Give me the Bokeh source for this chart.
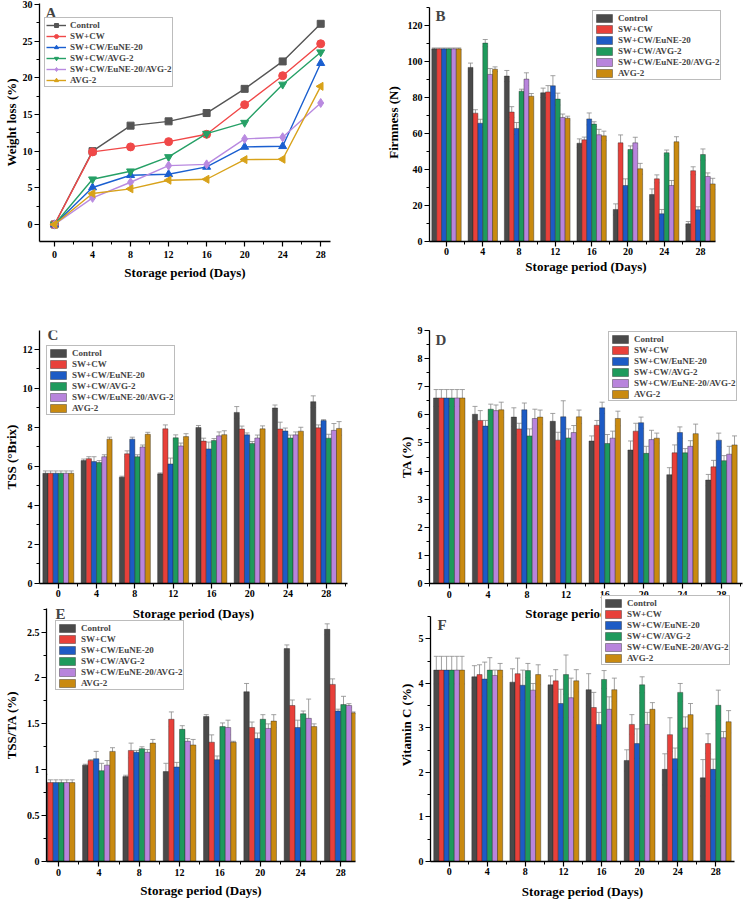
import numpy as np
from bokeh.plotting import figure
from bokeh.models import (ColumnDataSource, Whisker, TeeHead, Legend, LegendItem, Label,
                          SingleIntervalTicker, Range1d)
from bokeh.transform import dodge
from bokeh.layouts import row, column
from bokeh.embed import file_html
from bokeh.resources import INLINE

# ---------------- data ----------------
days = [0, 4, 8, 12, 16, 20, 24, 28]
treatments = ["Control", "SW+CW", "SW+CW/EuNE-20", "SW+CW/AVG-2",
              "SW+CW/EuNE-20/AVG-2", "AVG-2"]
keys = ["ctrl", "swcw", "eune", "avg", "euneavg", "avg2"]

# A: weight loss (%)
wl_ctrl = [0, 10.0, 13.48, 14.07, 15.2, 18.5, 22.24, 27.37]
wl_swcw = [0, 9.9, 10.58, 11.3, 12.3, 16.34, 20.29, 24.65]
wl_eune = [0, 5.04, 6.72, 6.85, 7.85, 10.58, 10.67, 22.0]
wl_avg = [0, 6.17, 7.26, 9.21, 12.39, 13.89, 19.1, 23.5]
wl_euneavg = [0, 3.63, 5.76, 8.03, 8.2, 11.67, 11.9, 16.57]
wl_avg2 = [0, 4.22, 4.86, 6.04, 6.17, 8.85, 8.9, 18.84]

# B: firmness (N)
fi_ctrl = [107, 96.7, 91.9, 82.6, 54.6, 17.8, 26.1, 9.8]
fi_swcw = [107, 71.3, 71.9, 83.1, 56.5, 54.8, 34.8, 39.3]
fi_eune = [107, 65.7, 62.8, 86.5, 68.1, 31.1, 15.4, 17.6]
fi_avg = [107, 110.2, 83.5, 79.1, 65.2, 51.1, 49.3, 48.3]
fi_euneavg = [107, 92.8, 90.2, 68.9, 59.3, 54.8, 31.1, 36.1]
fi_avg2 = [107, 95.7, 80.7, 68.5, 58.7, 40.4, 55.4, 32.0]
fi_err_ctrl = [0.5, 2.4, 3.1, 2.6, 2.4, 3.1, 3.1, 1.3]
fi_err_swcw = [0.5, 1.9, 3.0, 3.5, 1.5, 4.4, 2.2, 2.2]
fi_err_eune = [0.5, 2.2, 3.3, 5.6, 3.3, 3.7, 2.4, 1.7]
fi_err_avg = [0.5, 2.0, 1.1, 3.3, 1.3, 2.0, 1.5, 3.1]
fi_err_euneavg = [0.5, 3.3, 3.5, 1.9, 3.0, 3.1, 2.8, 2.0]
fi_err_avg2 = [0.5, 1.3, 1.5, 1.1, 2.6, 3.0, 2.8, 3.1]

# C: TSS (°Brix)
ts_ctrl = [5.65, 6.3, 5.45, 5.62, 8.0, 8.77, 9.0, 9.32]
ts_swcw = [5.65, 6.4, 6.65, 7.93, 7.3, 7.92, 7.92, 7.98]
ts_eune = [5.65, 6.25, 7.4, 6.13, 6.9, 7.62, 7.82, 8.35]
ts_avg = [5.65, 6.2, 6.5, 7.47, 7.33, 7.18, 7.46, 7.45]
ts_euneavg = [5.65, 6.5, 7.0, 7.05, 7.57, 7.46, 7.62, 7.85]
ts_avg2 = [5.65, 7.4, 7.65, 7.53, 7.63, 7.93, 7.81, 7.95]
ts_err_ctrl = [0.12, 0.08, 0.05, 0.05, 0.1, 0.3, 0.15, 0.3]
ts_err_swcw = [0.12, 0.1, 0.15, 0.2, 0.15, 0.15, 0.35, 0.15]
ts_err_eune = [0.12, 0.25, 0.1, 0.3, 0.35, 0.1, 0.15, 0.05]
ts_err_avg = [0.12, 0.1, 0.1, 0.15, 0.1, 0.1, 0.15, 0.2]
ts_err_euneavg = [0.12, 0.1, 0.1, 0.15, 0.2, 0.15, 0.15, 0.35]
ts_err_avg2 = [0.12, 0.1, 0.1, 0.15, 0.2, 0.15, 0.2, 0.35]

# D: TA (%)
ta_ctrl = [6.6, 6.02, 5.92, 5.77, 5.07, 4.75, 3.87, 3.68]
ta_swcw = [6.6, 5.8, 5.5, 5.1, 5.63, 5.42, 4.65, 4.15]
ta_eune = [6.6, 5.6, 6.18, 5.93, 6.25, 5.72, 5.37, 5.1]
ta_avg = [6.6, 6.2, 5.25, 5.18, 4.98, 4.63, 4.65, 4.37]
ta_euneavg = [6.6, 6.15, 5.87, 5.37, 5.17, 5.12, 4.88, 4.6]
ta_avg2 = [6.6, 6.18, 5.92, 5.93, 5.87, 5.17, 5.33, 4.93]
ta_err_ctrl = [0.3, 0.28, 0.33, 0.28, 0.18, 0.32, 0.25, 0.2]
ta_err_swcw = [0.3, 0.35, 0.2, 0.28, 0.17, 0.28, 0.28, 0.23]
ta_err_eune = [0.3, 0.2, 0.24, 0.57, 0.2, 0.2, 0.2, 0.25]
ta_err_avg = [0.3, 0.18, 0.25, 0.32, 0.32, 0.25, 0.15, 0.18]
ta_err_euneavg = [0.3, 0.2, 0.33, 0.25, 0.25, 0.33, 0.2, 0.28]
ta_err_avg2 = [0.3, 0.27, 0.25, 0.24, 0.26, 0.18, 0.34, 0.32]

# E: TSS/TA (%)
ra_ctrl = [0.86, 1.05, 0.925, 0.98, 1.58, 1.85, 2.32, 2.53]
ra_swcw = [0.86, 1.10, 1.21, 1.55, 1.30, 1.46, 1.70, 1.93]
ra_eune = [0.86, 1.12, 1.19, 1.03, 1.11, 1.34, 1.46, 1.64]
ra_avg = [0.86, 0.99, 1.23, 1.44, 1.47, 1.55, 1.61, 1.71]
ra_euneavg = [0.86, 1.05, 1.19, 1.31, 1.46, 1.45, 1.56, 1.70]
ra_avg2 = [0.86, 1.20, 1.29, 1.27, 1.30, 1.53, 1.47, 1.62]
ra_err_ctrl = [0.09, 0.01, 0.015, 0.09, 0.02, 0.09, 0.04, 0.06]
ra_err_swcw = [0.03, 0.01, 0.08, 0.08, 0.08, 0.06, 0.06, 0.06]
ra_err_eune = [0.03, 0.08, 0.02, 0.05, 0.04, 0.06, 0.08, 0.02]
ra_err_avg = [0.03, 0.08, 0.02, 0.04, 0.04, 0.05, 0.03, 0.09]
ra_err_euneavg = [0.03, 0.05, 0.03, 0.03, 0.08, 0.05, 0.21, 0.02]
ra_err_avg2 = [0.03, 0.04, 0.04, 0.06, 0.01, 0.07, 0.03, 0.01]

# F: Vitamin C (%)
vc_ctrl = [4.3, 4.15, 4.03, 3.97, 3.86, 2.27, 2.07, 1.88]
vc_swcw = [4.3, 4.2, 4.22, 4.06, 3.46, 3.08, 2.85, 2.65]
vc_eune = [4.3, 4.1, 3.96, 3.55, 3.08, 2.65, 2.31, 2.07]
vc_avg = [4.3, 4.3, 4.29, 4.2, 4.09, 3.97, 3.8, 3.51]
vc_euneavg = [4.3, 4.18, 3.85, 3.68, 3.42, 3.08, 3.0, 2.78]
vc_avg2 = [4.3, 4.3, 4.2, 4.06, 3.86, 3.42, 3.3, 3.14]
vc_err_ctrl = [0.31, 0.25, 0.3, 0.2, 0.36, 0.24, 0.35, 0.41]
vc_err_swcw = [0.31, 0.22, 0.35, 0.25, 0.34, 0.22, 0.38, 0.22]
vc_err_eune = [0.31, 0.38, 0.34, 0.32, 0.27, 0.33, 0.24, 0.23]
vc_err_avg = [0.31, 0.28, 0.16, 0.44, 0.2, 0.18, 0.2, 0.34]
vc_err_euneavg = [0.31, 0.12, 0.15, 0.44, 0.28, 0.27, 0.25, 0.14]
vc_err_avg2 = [0.31, 0.15, 0.22, 0.25, 0.26, 0.15, 0.25, 0.25]

bar_colors = ["#4a4a4a", "#e8403a", "#1d5bc5", "#1e9a5c", "#b884dc", "#c98a10"]
line_colors = ["#555555", "#f04848", "#1a5fd0", "#26a066", "#b98ae0", "#d8a21a"]
markers = ["square", "circle", "triangle", "inverted_triangle", "diamond", "triangle"]
marker_angles = [0, 0, 0, 0, 0, np.pi / 2]
marker_sizes = [7, 8, 8, 8, 9, 8]

# ---------------- layout helpers ----------------
FONT = "Liberation Serif"
XLABEL = "Storage period (Days)"
BAR_W = 0.54
ITEM_H = 11
LEG_PAD = 1
LEG_H = 6 * ITEM_H + 2 * LEG_PAD


def frame_h(sp):
    return sp["h"] - sp["t"] - sp["b"]


def base_fig(sp, transparent=False):
    p = figure(width=sp["w"], height=sp["h"],
               x_range=Range1d(*sp["xr"]), y_range=Range1d(*sp["yr"]),
               output_backend="svg", toolbar_location=None,
               min_border_left=sp["l"], min_border_right=sp["r"],
               min_border_top=sp["t"], min_border_bottom=sp["b"])
    p.outline_line_color = None
    p.xgrid.visible = False
    p.ygrid.visible = False
    if transparent:
        p.background_fill_color = None
        p.border_fill_color = None
    for ax in (p.xaxis[0], p.yaxis[0]):
        ax.axis_line_width = 1.3
        ax.axis_line_color = "black"
        ax.major_tick_out = 5
        ax.major_tick_in = 0
        ax.minor_tick_out = 3
        ax.minor_tick_in = 0
        ax.major_tick_line_width = 1.2
        ax.minor_tick_line_width = 1
        ax.major_tick_line_color = "black"
        ax.minor_tick_line_color = "black"
        ax.major_label_text_font = FONT
        ax.major_label_text_font_style = "bold"
        ax.major_label_text_font_size = "10px"
        ax.major_label_text_color = "black"
        ax.axis_label_text_font = FONT
        ax.axis_label_text_font_style = "bold"
        ax.axis_label_text_font_size = "13px"
        ax.axis_label_text_color = "black"
    p.xaxis.ticker = SingleIntervalTicker(interval=4, num_minor_ticks=2)
    p.yaxis.ticker = SingleIntervalTicker(interval=sp["ymaj"], num_minor_ticks=2)
    p.xaxis.axis_label = XLABEL
    p.yaxis.axis_label = sp["ylabel"]
    p.xaxis.major_label_standoff = sp["xs"][0]
    p.xaxis.axis_label_standoff = sp["xs"][1]
    p.yaxis.major_label_standoff = sp["ys"][0]
    p.yaxis.axis_label_standoff = sp["ys"][1]
    if "ybounds" in sp:
        p.yaxis.bounds = sp["ybounds"]
    if "xbounds" in sp:
        p.xaxis.bounds = sp["xbounds"]
    lx, ly = sp["lab"]
    p.add_layout(Label(x=lx, y=frame_h(sp) - ly, x_units="screen", y_units="screen",
                       text=sp["name"], text_font=FONT, text_font_style="bold",
                       text_font_size="15px", text_baseline="middle", text_align="left"))
    return p


def add_legend(p, sp, items):
    gx, gy = sp["leg"]
    leg = Legend(items=items, location=(gx, frame_h(sp) - gy - LEG_H))
    leg.label_text_font = FONT
    leg.label_text_font_style = "bold"
    leg.label_text_font_size = "9px"
    leg.label_text_line_height = 1.0
    leg.label_height = ITEM_H
    leg.glyph_height = ITEM_H - 1
    leg.glyph_width = 20
    leg.label_standoff = 4
    leg.spacing = 0
    leg.padding = LEG_PAD
    leg.margin = 0
    leg.border_line_color = "#7a7a7a"
    leg.border_line_width = 1
    leg.background_fill_color = "white"
    leg.background_fill_alpha = 1
    p.add_layout(leg)


def bar_panel(sp, series, errors, transparent=False):
    p = base_fig(sp, transparent)
    data = {"day": days}
    for k, v, e in zip(keys, series, errors):
        data[k] = v
        data[k + "_up"] = [a + b for a, b in zip(v, e)]
        data[k + "_lo"] = [a - b for a, b in zip(v, e)]
    src = ColumnDataSource(data)
    items = []
    for i, (k, name) in enumerate(zip(keys, treatments)):
        off = (i - 2.5) * BAR_W
        r = p.vbar(x=dodge("day", off, range=p.x_range), top=k, width=BAR_W, source=src,
                   fill_color=bar_colors[i], line_color="#222222", line_width=0.4)
        items.append(LegendItem(label=name, renderers=[r]))
    for i, k in enumerate(keys):
        off = (i - 2.5) * BAR_W
        p.add_layout(Whisker(base=dodge("day", off, range=p.x_range), upper=k + "_up", lower=k + "_lo",
                             source=src, line_color="#8a8a8a", line_width=0.8,
                             upper_head=TeeHead(size=5, line_color="#8a8a8a", line_width=0.8),
                             lower_head=TeeHead(size=5, line_color="#8a8a8a", line_width=0.8)))
    add_legend(p, sp, items)
    return p


# panel specs in pixels; borders shared within a row; leg/lab = offsets from frame top-left
spA = dict(name="A", w=372, h=300, l=33, r=42, t=3, b=59, xr=(-1.58, 29.03), yr=(-2.32, 30.14),
           ymaj=5, ylabel="Weight loss (%)", xs=(4, 4), ys=(2, 1), leg=(5, 16), lab=(6, 9.5))
spB = dict(name="B", w=371, h=300, l=57, r=1, t=3, b=59, xr=(-1.874, 32.63), yr=(0, 132.2),
           xbounds=(-1.874, 29.66), ybounds=(0, 130), ymaj=20, ylabel="Firmness (N)",
           xs=(1, 1), ys=(2, 4), leg=(163, 9), lab=(6, 12.5))
spC = dict(name="C", w=372, h=328, l=33, r=25, t=30, b=45, xr=(-1.97, 30.23), yr=(0, 12.97),
           ymaj=2, ylabel="TSS (°Brix)", xs=(1, 6), ys=(2, 1), leg=(7, 17), lab=(8, 4.5))
spD = dict(name="D", w=371, h=328, l=57, r=1, t=30, b=45, xr=(-2.03, 30.17), yr=(0, 9.0),
           ymaj=1, ylabel="TA (%)", xs=(2, 5), ys=(2, 1), leg=(179, 3), lab=(6, 9))
spE = dict(name="E", w=372, h=313, l=41, r=17, t=0, b=39, xr=(-1.2, 29.46), yr=(0, 2.975),
           ybounds=(0, 2.757), ymaj=0.5, ylabel="TSS/TA (%)", xs=(2, 4), ys=(2, 5),
           leg=(9, 35), lab=(9, 26))
spF = dict(name="F", w=371, h=313, l=58, r=9, t=0, b=39, xr=(-1.96, 29.97), yr=(0, 6.134),
           ybounds=(0, 5.5), ymaj=1, ylabel="Vitamin C (%)", xs=(1, 6), ys=(2, 2),
           leg=(171, 10), lab=(7, 37))

# ---------------- panel A (lines) ----------------
pA = base_fig(spA)
srcA = ColumnDataSource(dict(day=days, ctrl=wl_ctrl, swcw=wl_swcw, eune=wl_eune, avg=wl_avg,
                             euneavg=wl_euneavg, avg2=wl_avg2))
itemsA = []
for i, (k, name) in enumerate(zip(keys, treatments)):
    ln = pA.line(x="day", y=k, source=srcA, line_color=line_colors[i], line_width=1.4)
    mk = pA.scatter(x="day", y=k, source=srcA, marker=markers[i], size=marker_sizes[i],
                    angle=marker_angles[i], fill_color=line_colors[i], line_color=line_colors[i])
    itemsA.append(LegendItem(label=name, renderers=[ln, mk]))
add_legend(pA, spA, itemsA)

pB = bar_panel(spB, [fi_ctrl, fi_swcw, fi_eune, fi_avg, fi_euneavg, fi_avg2],
               [fi_err_ctrl, fi_err_swcw, fi_err_eune, fi_err_avg, fi_err_euneavg, fi_err_avg2])
pC = bar_panel(spC, [ts_ctrl, ts_swcw, ts_eune, ts_avg, ts_euneavg, ts_avg2],
               [ts_err_ctrl, ts_err_swcw, ts_err_eune, ts_err_avg, ts_err_euneavg, ts_err_avg2])
pD = bar_panel(spD, [ta_ctrl, ta_swcw, ta_eune, ta_avg, ta_euneavg, ta_avg2],
               [ta_err_ctrl, ta_err_swcw, ta_err_eune, ta_err_avg, ta_err_euneavg, ta_err_avg2])
pE = bar_panel(spE, [ra_ctrl, ra_swcw, ra_eune, ra_avg, ra_euneavg, ra_avg2],
               [ra_err_ctrl, ra_err_swcw, ra_err_eune, ra_err_avg, ra_err_euneavg, ra_err_avg2],
               transparent=True)
pF = bar_panel(spF, [vc_ctrl, vc_swcw, vc_eune, vc_avg, vc_euneavg, vc_avg2],
               [vc_err_ctrl, vc_err_swcw, vc_err_eune, vc_err_avg, vc_err_euneavg, vc_err_avg2],
               transparent=True)

layout = column(row(pA, pB), row(pC, pD), row(pE, pF, margin=(-40, 0, 0, 0)))

open("out.html", "w").write(file_html(layout, INLINE))
